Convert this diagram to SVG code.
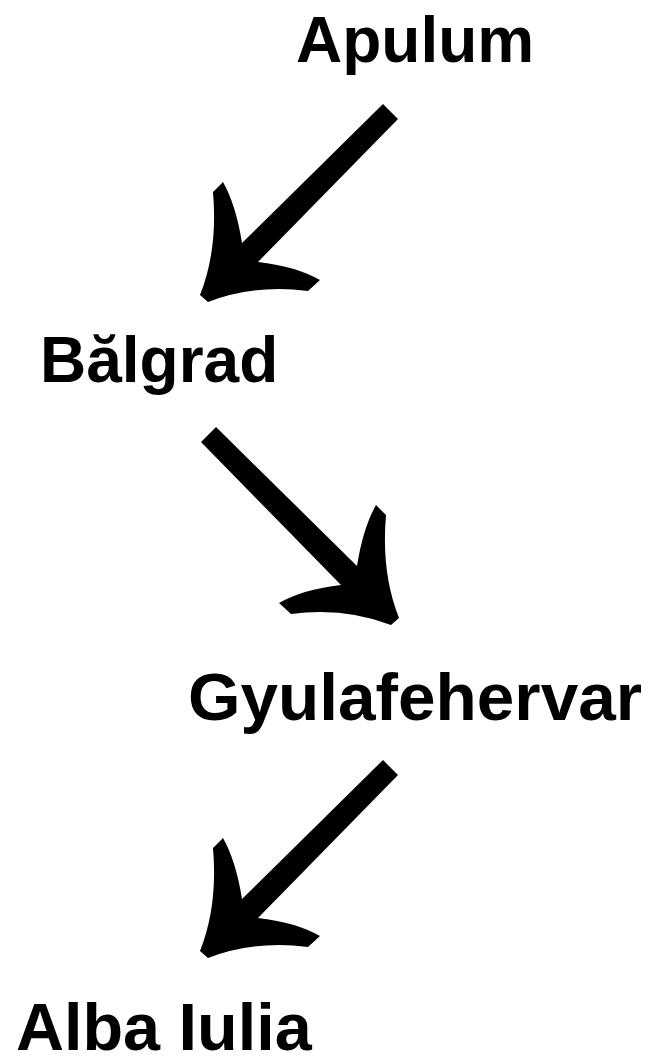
<svg xmlns="http://www.w3.org/2000/svg" xmlns:xlink="http://www.w3.org/1999/xlink" width="649" height="1058" viewBox="0 0 649 1058">
<style>
.lbl{font-family:"Liberation Sans",Arial,sans-serif;font-weight:bold;fill:#000}
.arr{fill:#000}
</style>
<defs>
<path id="arrowDL" class="arr" d="M -4,-3 Q 14,-48 9,-106 L 19,-116 Q 32,-93 38,-55 L 179,-194 L 194,-179 L 54,-36 Q 91,-32 116,-18 L 104,-7 Q 51,-14 4,4 Z"/>
</defs>
<rect x="0" y="0" width="649" height="1058" fill="#fff"/>
<g id="connectors">
<use xlink:href="#arrowDL" href="#arrowDL" transform="translate(204,298)"/>
<use xlink:href="#arrowDL" href="#arrowDL" transform="translate(395,621) scale(-1,1)"/>
<use xlink:href="#arrowDL" href="#arrowDL" transform="translate(204,954)"/>
</g>
<g id="node-apulum"><text class="lbl" x="296" y="62" font-size="64">Apulum</text></g>
<g id="node-balgrad"><text class="lbl" x="40" y="382" font-size="64">Bălgrad</text></g>
<g id="node-gyulafehervar"><text class="lbl" x="188" y="720" font-size="67.5">Gyulafehervar</text></g>
<g id="node-albaiulia"><text class="lbl" x="16" y="1050" font-size="66.5">Alba Iulia</text></g>
</svg>
